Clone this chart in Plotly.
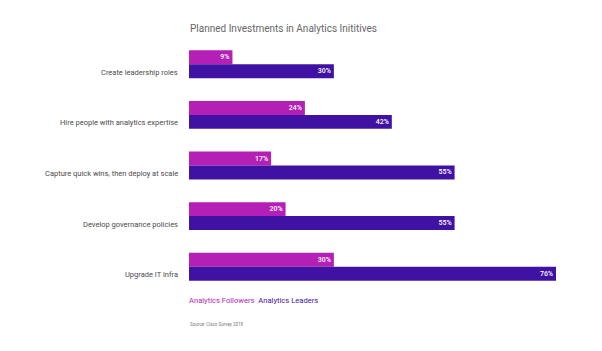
import plotly.graph_objects as go

categories = [
    "Create leadership roles",
    "Hire people with analytics expertise",
    "Capture quick wins, then deploy at scale",
    "Develop governance policies",
    "Upgrade IT infra",
]
followers = [9, 24, 17, 20, 30]
leaders = [30, 42, 55, 55, 76]
series_names = ["Analytics Followers", "Analytics Leaders"]
colors = ["#B41FB5", "#3F12A3"]
title_text = "Planned Investments in Analytics Inititives"
source_text = "Source: Cisco Survey 2018"

FONT = "Roboto"

fig = go.Figure()
for name, vals, col in zip(series_names, [followers, leaders], colors):
    fig.add_trace(go.Bar(
        y=categories, x=vals, name=name, orientation="h",
        marker=dict(color=col, line=dict(width=0)),
        text=[f"{v}%" for v in vals], textposition="inside",
        insidetextanchor="end", constraintext="none",
        textfont=dict(color="white", size=7, family=FONT + " Medium, " + FONT),
        cliponaxis=False, showlegend=False,
    ))

annotations = []
for c in categories:
    annotations.append(dict(
        x=0, y=c, xref="x", yref="y", text=c, showarrow=False,
        xanchor="right", yanchor="middle", xshift=-9, yshift=-8,
        font=dict(family=FONT, size=7.5, color="#4a4a4a"),
    ))

annotations.append(dict(
    x=0, y=1.042, xref="paper", yref="paper", text=title_text,
    showarrow=False, xanchor="left", yanchor="middle", xshift=-1,
    font=dict(family=FONT, size=10, color="#666666"),
))
legend_html = "  ".join(
    f"<span style='color:{c}'>{n}</span>" for n, c in zip(series_names, colors)
)
annotations.append(dict(
    x=0, y=-0.034, xref="paper", yref="paper", text=legend_html,
    showarrow=False, xanchor="left", yanchor="middle", xshift=-2,
    font=dict(family=FONT, size=7.6),
))
annotations.append(dict(
    x=0, y=-0.128, xref="paper", yref="paper", text=source_text,
    showarrow=False, xanchor="left", yanchor="middle", xshift=-1,
    font=dict(family=FONT, size=4.5, color="#777777"),
))

fig.update_layout(
    width=602, height=351,
    margin=dict(l=189, r=46, t=38.6, b=58.6),
    paper_bgcolor="white", plot_bgcolor="white",
    barmode="group", bargap=0.448, bargroupgap=0,
    xaxis=dict(range=[0, 76], visible=False, fixedrange=True),
    yaxis=dict(autorange="reversed", showticklabels=False, showgrid=False,
               zeroline=False, showline=False, ticks=""),
    annotations=annotations,
    uniformtext=dict(minsize=6, mode="show"),
)

fig.write_html("out.html")
